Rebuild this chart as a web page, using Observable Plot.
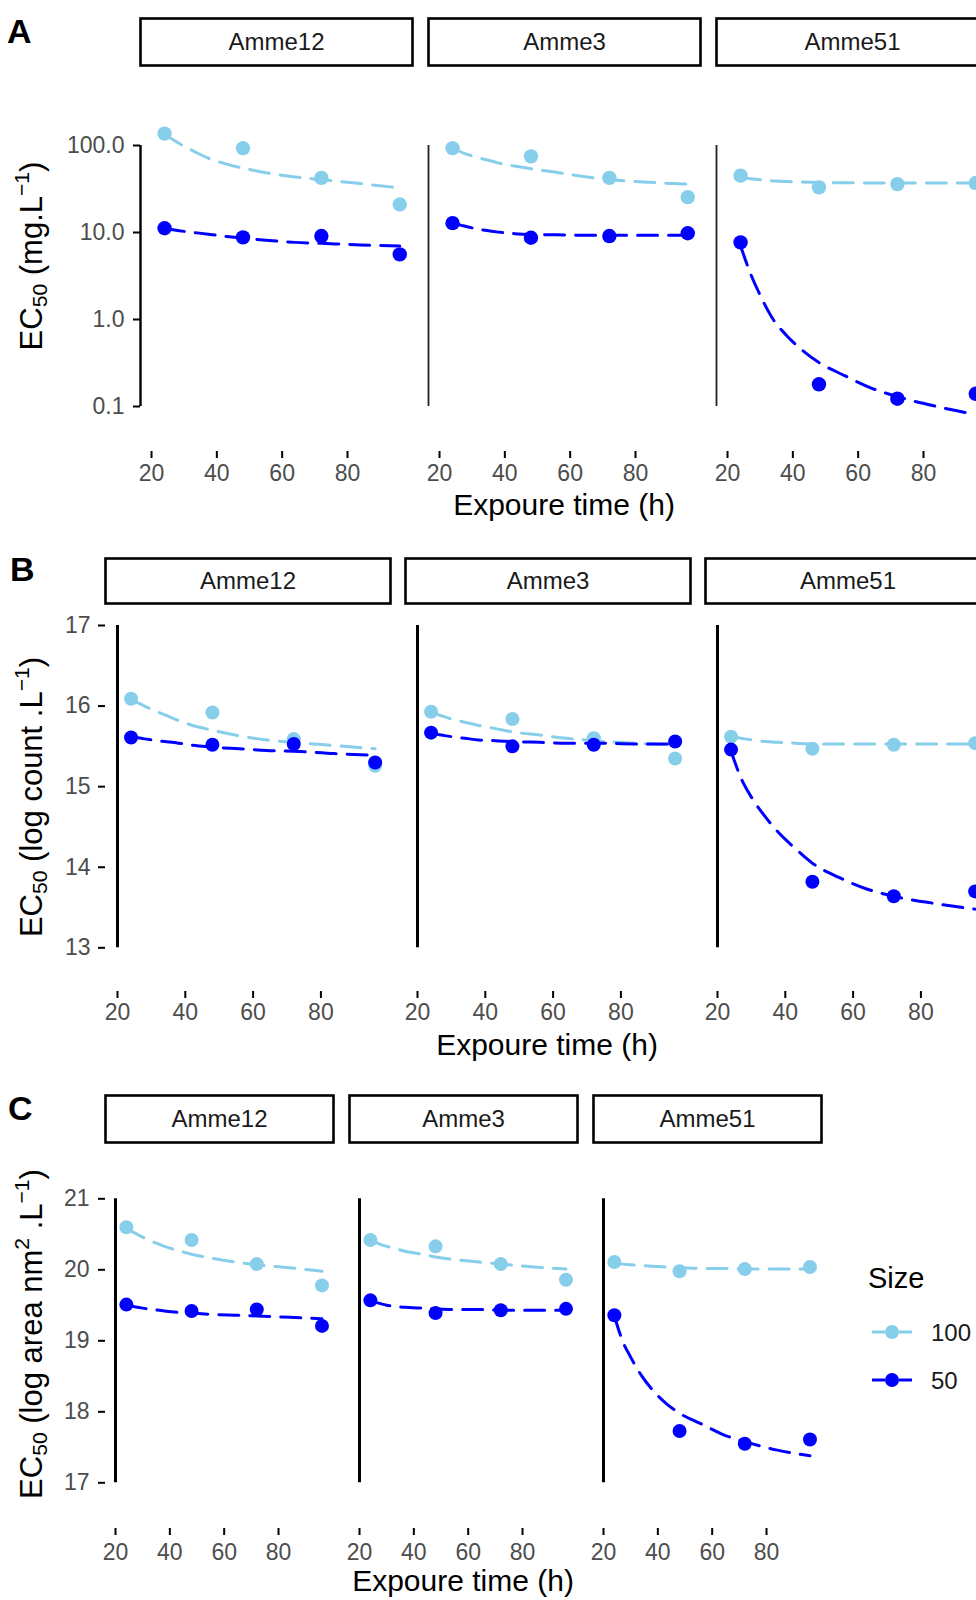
<!DOCTYPE html>
<html><head><meta charset="utf-8">
<script src="https://cdn.jsdelivr.net/npm/d3@7"></script>
<script src="https://cdn.jsdelivr.net/npm/@observablehq/plot@0.6"></script>
<style>
body{margin:0;background:#fff;}
#root{position:relative;width:976px;height:1600px;overflow:hidden;background:#fff;font-family:"Liberation Sans",Arial,Helvetica,sans-serif;color:#000;}
.abs{position:absolute;white-space:nowrap;}
.xt{font-size:30px;line-height:30px;transform:translateX(-50%);}
.yt{font-size:31px;line-height:31px;transform:translate(-50%,-50%) rotate(-90deg);}
.yt sub{font-size:0.68em;vertical-align:-0.28em;line-height:0;}
.yt sup{font-size:0.68em;vertical-align:0.6em;line-height:0;}
.tag{font-weight:bold;font-size:34px;line-height:34px;}
</style></head>
<body><div id="root"></div>
<script>
// ---------- data ----------
const strains = ["Amme12", "Amme3", "Amme51"];
const sizes = ["100", "50"];
const sizeColors = ["#87CEEB", "#0000FF"];
const times = [24, 48, 72, 96];
const fitTimes = [24, 27, 30, 34, 38, 43, 48, 56, 64, 72, 84, 96];
const timeTicks = [20, 40, 60, 80];

// A: EC50 (mg/L), rows = strains
const massObs100 = [[137, 93, 42.5, 21], [93, 75, 42.5, 25.5], [45, 33, 36, 37]];
const massObs50 = [[11.2, 8.8, 9.1, 5.6], [12.8, 8.7, 9.1, 9.8], [7.7, 0.18, 0.123, 0.14]];
const massFit100 = [
  [136, 114, 98, 82, 70, 61, 55, 48, 43.5, 40.5, 36.5, 32.5],
  [93, 83, 76, 69, 63, 58, 54, 49, 44, 40.6, 37.8, 36],
  [43, 41.5, 40.3, 39.2, 38.5, 38, 37.6, 37.3, 37.1, 37, 37, 37]
];
const massFit50 = [
  [11.2, 10.7, 10.3, 9.9, 9.5, 9.0, 8.6, 8.1, 7.7, 7.5, 7.2, 7.0],
  [12.8, 12.0, 11.3, 10.6, 10.1, 9.7, 9.5, 9.4, 9.3, 9.3, 9.3, 9.3],
  [7.0, 3.4, 1.9, 1.0, 0.66, 0.44, 0.32, 0.225, 0.163, 0.13, 0.1, 0.081]
];
const massTicks = [0.1, 1, 10, 100];

// B: EC50 (log count/L)
const countObs100 = [[16.09, 15.92, 15.59, 15.26], [15.93, 15.84, 15.60, 15.35], [15.62, 15.47, 15.52, 15.54]];
const countObs50 = [[15.61, 15.52, 15.53, 15.30], [15.67, 15.50, 15.52, 15.56], [15.46, 13.82, 13.64, 13.70]];
const countFit100 = [
  [16.08, 16.02, 15.96, 15.89, 15.82, 15.75, 15.70, 15.63, 15.58, 15.55, 15.51, 15.47],
  [15.92, 15.88, 15.84, 15.80, 15.76, 15.72, 15.68, 15.64, 15.60, 15.57, 15.54, 15.52],
  [15.62, 15.60, 15.58, 15.56, 15.55, 15.54, 15.53, 15.53, 15.53, 15.53, 15.53, 15.53]
];
const countFit50 = [
  [15.62, 15.60, 15.58, 15.56, 15.54, 15.51, 15.49, 15.47, 15.45, 15.44, 15.41, 15.39],
  [15.66, 15.64, 15.62, 15.60, 15.58, 15.57, 15.56, 15.55, 15.54, 15.54, 15.53, 15.53],
  [15.44, 15.10, 14.87, 14.63, 14.43, 14.23, 14.05, 13.87, 13.73, 13.64, 13.55, 13.48]
];
const countTicks = [13, 14, 15, 16, 17];

// C: EC50 (log area nm2/L)
const areaObs100 = [[20.60, 20.42, 20.08, 19.78], [20.42, 20.33, 20.08, 19.86], [20.11, 19.98, 20.01, 20.04]];
const areaObs50 = [[19.51, 19.42, 19.44, 19.21], [19.57, 19.39, 19.43, 19.45], [19.36, 17.73, 17.55, 17.61]];
const areaFit100 = [
  [20.59, 20.52, 20.46, 20.39, 20.33, 20.27, 20.22, 20.16, 20.11, 20.07, 20.03, 19.98],
  [20.42, 20.37, 20.33, 20.29, 20.25, 20.22, 20.18, 20.14, 20.11, 20.08, 20.04, 20.01],
  [20.10, 20.08, 20.07, 20.06, 20.05, 20.04, 20.03, 20.02, 20.02, 20.01, 20.01, 20.01]
];
const areaFit50 = [
  [19.50, 19.48, 19.46, 19.44, 19.42, 19.40, 19.39, 19.37, 19.36, 19.35, 19.33, 19.31],
  [19.56, 19.53, 19.50, 19.48, 19.47, 19.46, 19.45, 19.44, 19.44, 19.43, 19.43, 19.43],
  [19.35, 19.00, 18.77, 18.51, 18.31, 18.12, 17.98, 17.83, 17.68, 17.58, 17.46, 17.38]
];
const areaTicks = [17, 18, 19, 20, 21];

// ---------- helpers ----------
function tidy(s100, s50, xs) {
  const out = [];
  [s100, s50].forEach((series, si) =>
    series.forEach((vals, k) =>
      vals.forEach((v, i) => out.push({strain: strains[k], size: sizes[si], time: xs[i], value: v}))));
  return out;
}

const FONT = '"Liberation Sans", Arial, Helvetica, sans-serif';
const root = document.getElementById("root");

function section(c) {
  const obs = tidy(c.obs100, c.obs50, times);
  const fit = tidy(c.fit100, c.fit50, fitTimes);
  const plotH = c.height - c.mT - c.mB;
  const insetTop = c.stripTop - c.mT;
  const insetBottom = plotH - insetTop - c.stripH;
  const marks = [
    Plot.frame({stroke: "#000", strokeWidth: 2.6, fill: "none", insetTop, insetBottom}),
    Plot.text(strains, {fx: d => d, text: d => d, frameAnchor: "top", lineAnchor: "middle",
      dy: c.stripTop + c.stripH / 2 - c.mT, fontSize: 24, fill: "#1a1a1a"}),
  ];
  c.rules.forEach(r => marks.push(
    Plot.ruleX(r.data, {fx: d => d, x: () => r.x, y1: () => c.yTicks[0], y2: () => c.yTicks[c.yTicks.length - 1],
      stroke: r.stroke, strokeWidth: r.width})));
  marks.push(
    Plot.line(fit, {fx: "strain", x: "time", y: "value", stroke: "size", z: "size",
      strokeWidth: 3, strokeDasharray: "20,11", curve: "monotone-x"}),
    Plot.dot(obs, {fx: "strain", x: "time", y: "value", fill: "size", r: c.r}),
    Plot.axisY({ticks: c.yTicks, tickFormat: c.yFormat, tickSize: 7, tickPadding: c.yPad, fontSize: 23,
      fill: "#4d4d4d", stroke: "#000", strokeWidth: 2, label: null}),
    Plot.axisX({ticks: timeTicks, tickSize: 7, tickPadding: c.xPad, fontSize: 23,
      fill: "#4d4d4d", stroke: "#000", strokeWidth: 2, label: null})
  );
  const svg = Plot.plot({
    width: c.width, height: c.height,
    marginLeft: c.mL, marginRight: c.mR, marginTop: c.mT, marginBottom: c.mB,
    style: {fontFamily: FONT, maxWidth: "none", background: "transparent", overflow: "visible",
      position: "absolute", left: "0px", top: c.top + "px"},
    fx: {domain: strains, paddingInner: c.pad, paddingOuter: 0, axis: null, label: null},
    x: {domain: c.xDomain, axis: null},
    y: Object.assign({axis: null}, c.y),
    color: {domain: sizes, range: sizeColors},
    marks
  });
  root.appendChild(svg);
}

const xDomainA = [16.63, 99.9];
section({
  top: 0, width: 1000, height: 520, mL: 140, mR: 12, mT: 110, mB: 69, pad: 16 / 288,
  xDomain: xDomainA, y: {type: "log", domain: [0.1, 100], range: [406, 145]},
  yTicks: massTicks, yFormat: d3.format(".1f"), yPad: 9, xPad: 6, r: 7.2,
  stripTop: 18, stripH: 47,
  obs100: massObs100, obs50: massObs50, fit100: massFit100, fit50: massFit50,
  rules: [
    {data: strains.slice(0, 1), x: xDomainA[0], stroke: "#000", width: 2.4},
    {data: strains.slice(1), x: xDomainA[0], stroke: "#222", width: 1.8}
  ]
});

section({
  top: 530, width: 1000, height: 500, mL: 105, mR: 10, mT: 78, mB: 39, pad: 0.05,
  xDomain: [16.46, 100.53], y: {domain: [13, 17], range: [417.3, 95]},
  yTicks: countTicks, yFormat: d3.format("d"), yPad: 8, xPad: 5, r: 7,
  stripTop: 28, stripH: 45,
  obs100: countObs100, obs50: countObs50, fit100: countFit100, fit50: countFit50,
  rules: [{data: strains, x: timeTicks[0], stroke: "#000", width: 3}]
});

section({
  top: 1060, width: 976, height: 540, mL: 105, mR: 155, mT: 88, mB: 72, pad: 16 / 244,
  xDomain: [16.32, 100.24], y: {domain: [17, 21], range: [422.3, 138.3]},
  yTicks: areaTicks, yFormat: d3.format("d"), yPad: 9, xPad: 8, r: 7,
  stripTop: 35, stripH: 47,
  obs100: areaObs100, obs50: areaObs50, fit100: areaFit100, fit50: areaFit50,
  rules: [{data: strains, x: timeTicks[0], stroke: "#000", width: 3}]
});

// ---------- titles, tags, legend ----------
function addDiv(cls, html, left, top) {
  const d = document.createElement("div");
  d.className = "abs " + cls;
  d.innerHTML = html;
  d.style.left = left + "px";
  d.style.top = top + "px";
  root.appendChild(d);
  return d;
}
const xTitle = "Expoure time (h)";
addDiv("xt", xTitle, 564, 490);
addDiv("xt", xTitle, 547, 1030);
addDiv("xt", xTitle, 463, 1566);

addDiv("yt", "EC<sub>50</sub> (mg.L<sup>\u22121</sup>)", 31, 256);
addDiv("yt", "EC<sub>50</sub> (log count .L<sup>\u22121</sup>)", 31, 797);
addDiv("yt", "EC<sub>50</sub> (log area nm<sup>2</sup> .L<sup>\u22121</sup>)", 31, 1334);

addDiv("tag", "A", 7, 14);
addDiv("tag", "B", 10, 552);
addDiv("tag", "C", 8, 1091);

const legTitle = addDiv("", "Size", 868, 1264);
legTitle.style.fontSize = "29px"; legTitle.style.lineHeight = "29px";
const legRows = [1332, 1380];
sizes.forEach((s, i) => {
  const cy = legRows[i];
  addDiv("", `<svg width="46" height="20" style="display:block">
    <line x1="2" x2="42" y1="10" y2="10" stroke="${sizeColors[i]}" stroke-width="3" stroke-dasharray="13,14"/>
    <circle cx="22" cy="10" r="7" fill="${sizeColors[i]}"/></svg>`, 870, cy - 10);
  const lab = addDiv("", s, 931, cy - 11);
  lab.style.fontSize = "24px"; lab.style.lineHeight = "24px"; lab.style.color = "#1a1a1a";
});
</script>
</body></html>
